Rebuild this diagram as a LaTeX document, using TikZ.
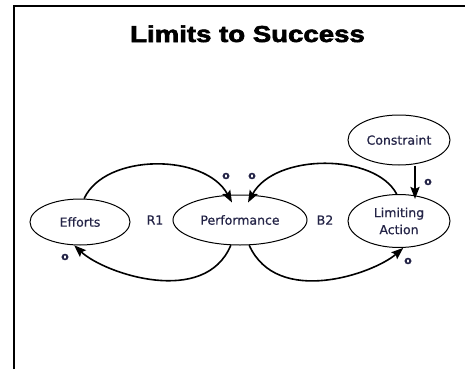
\documentclass[tikz,border=0pt]{standalone}
\usepackage{fontspec}
\setmainfont{DejaVu Sans}
\newfontfamily\titlefont[FakeBold=2.5]{Liberation Sans}
\newfontfamily\nodefont[FakeBold=0.6]{DejaVu Sans}
\usetikzlibrary{shapes.geometric,arrows.meta}
\definecolor{txt}{RGB}{35,35,70}
\tikzset{
  var/.style={ellipse,draw,line width=1pt,inner sep=0pt,text=txt,
    font=\nodefont\fontsize{12.5}{17}\selectfont,align=center},
  arc/.style={line width=1.6pt,-{Stealth[length=12pt,width=9pt,inset=2pt]}},
  olab/.style={text=txt,font=\nodefont\bfseries\fontsize{11}{11}\selectfont,inner sep=0pt},
  looplab/.style={text=txt,font=\nodefont\fontsize{12.5}{13}\selectfont,inner sep=0pt}
}
\begin{document}
\begin{tikzpicture}[x=1pt,y=-1pt]
\useasboundingbox (0,0) rectangle (465,369);
\draw[line width=2pt] (13.5,369) -- (13.5,6) -- (465,6);
\node[anchor=base] (title) at (247.5,42) {\titlefont\bfseries\fontsize{23}{23}\selectfont\scalebox{1.2}[1]{Limits to Success}};

\node[var,minimum width=100pt,minimum height=46pt] (eff) at (80,222) {Efforts};
\node[var,minimum width=134pt,minimum height=50pt] (perf) at (240,220) {Performance};
\node[var,minimum width=102pt,minimum height=53pt] (lim) at (399,221) {Limiting\\Action};
\node[var,minimum width=102pt,minimum height=50pt] (con) at (399,140) {Constraint};

\node[looplab] (r1) at (155,220) {R1};
\node[looplab] (b2) at (325,220) {B2};

% R1 loop
\draw[arc] (eff.80) .. controls (105,153) and (205,153) .. ([shift={(-8,8)}]perf.north);
\draw[arc] (perf.250) .. controls (205,307) and (105,274) .. (eff.256);
% B2 loop
\draw[arc] (lim.95) .. controls (375,153) and (275,153) .. ([shift={(8,8)}]perf.north);
\draw[arc] (perf.290) .. controls (277,307) and (373,274) .. (lim.279);
% constraint
\draw[line width=2.2pt,-{Stealth[length=12pt,width=9pt,inset=2pt]}] ([xshift=16pt]con.south) -- ([xshift=16pt,yshift=-5pt]lim.north);

\node[olab] (o1) at (226,176) {o};
\node[olab] (o2) at (252,176) {o};
\node[olab] (o3) at (65,257) {o};
\node[olab] (o4) at (408,261) {o};
\node[olab] (o5) at (428,182) {o};
\end{tikzpicture}
\end{document}
